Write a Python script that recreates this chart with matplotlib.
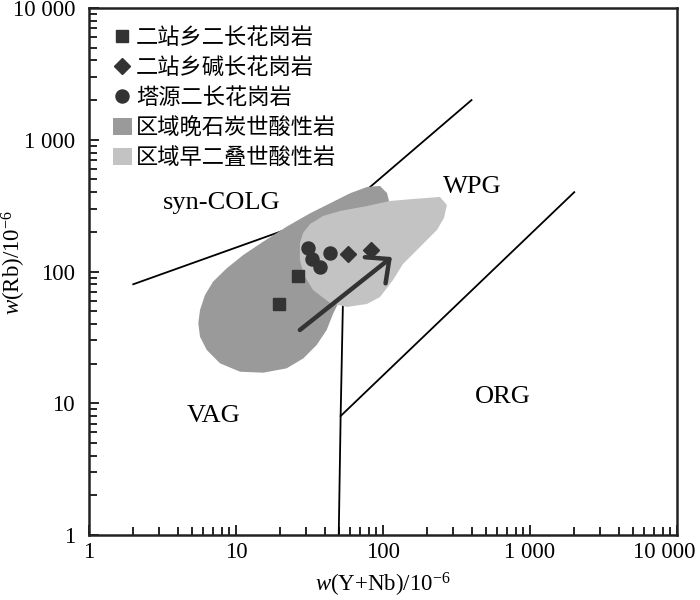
import numpy as np
import matplotlib
matplotlib.use("Agg")
import matplotlib.pyplot as plt
from matplotlib.lines import Line2D
from matplotlib.patches import Patch
from matplotlib.ticker import FixedLocator, FuncFormatter, LogLocator
from matplotlib.transforms import ScaledTranslation

plt.rcParams["font.family"] = ["Liberation Serif", "DejaVu Serif"]
plt.rcParams["mathtext.fontset"] = "custom"
plt.rcParams["mathtext.rm"] = "Liberation Serif"
plt.rcParams["mathtext.it"] = "Liberation Serif:italic"

# --- sample data ---
sq_x = [26.4, 19.6]          # 二站乡二长花岗岩
sq_y = [91.7, 57.0]
dia_x = [57.4, 82.7]         # 二站乡碱长花岗岩
dia_y = [134.6, 146.8]
cir_x = [30.9, 32.9, 37.3, 43.8]   # 塔源二长花岗岩
cir_y = [152, 125, 109, 139]

# regional fields (outline)
late_carb_x = [5.54, 5.69, 6.15, 6.98, 8.65, 11.2, 15.3, 22.1, 31.9, 45.9,
               59.6, 77.8, 95.4, 106.5, 111.6, 130.5, 51.0,
               45.9, 41.4, 35.4, 28.7, 22.1, 15.3, 10.65, 7.78, 6.32, 5.69]
late_carb_y = [40.4, 51.0, 66.3, 83.7, 105.8, 133.4, 168.3, 218.8, 276.5, 338.8,
               392.2, 438, 446, 394, 320, 122, 60.8,
               48.2, 36.0, 27.7, 21.9, 18.4, 17.06, 17.35, 20.1, 25.4, 32.0]
early_perm_x = [27.2, 28.6, 31.9, 39.1, 51.0, 77.8, 111.6, 160, 244, 272,
                260, 233, 178.5, 136.8, 117, 95.4, 77.8, 56.9, 43.6, 33.4,
                29.0, 27.2]
early_perm_y = [164.5, 196, 229, 264, 288, 314, 343, 355, 368, 320, 255,
                207, 153.5, 114, 86.2, 64, 56.7, 53.8, 57.7, 72.4, 94.0, 122]

# Pearce (1984) boundaries
bound_a_x = [2, 55, 400]
bound_a_y = [80, 300, 2000]
bound_b_x = [55, 51.5, 50]
bound_b_y = [300, 8, 1]
bound_c_x = [51.5, 2000]
bound_c_y = [8, 400]

arrow_start = (27.2, 36.0)
arrow_end = (115, 128.8)

tick_vals = [1, 10, 100, 1000, 10000]
tick_text = ["1", "10", "100", "1 000", "10 000"]

mark_col = "#333333"
dark_gray = "#9a9a9a"
light_gray = "#c3c3c3"

fig = plt.figure(figsize=(7, 6), dpi=100)
ax = fig.add_axes([89 / 700, 65 / 600, 588 / 700, 527 / 600])
ax.set_xscale("log")
ax.set_yscale("log")
ax.set_xlim(1, 10000)
ax.set_ylim(1, 10000)

for bx, by in [(bound_a_x, bound_a_y), (bound_b_x, bound_b_y), (bound_c_x, bound_c_y)]:
    ax.plot(bx, by, color="black", lw=1.3, zorder=1)

ax.fill(late_carb_x, late_carb_y, color=dark_gray, lw=0, zorder=2)
ax.fill(early_perm_x, early_perm_y, color=light_gray, lw=0, zorder=3)

ax.annotate("", xy=arrow_end, xytext=arrow_start,
            arrowprops=dict(arrowstyle="->,head_length=0.65,head_width=0.6",
                            mutation_scale=20, lw=3.2, color=mark_col,
                            shrinkA=0, shrinkB=0),
            zorder=4)

ax.plot(sq_x, sq_y, "s", ms=8.6, color=mark_col, ls="none", zorder=5)
ax.plot(dia_x, dia_y, "D", ms=8.5, color=mark_col, ls="none", zorder=5)
ax.plot(cir_x, cir_y, "o", ms=9.4, color=mark_col, ls="none", zorder=5)

ax.text(8.0, 331, "syn-COLG", fontsize=19, ha="center", va="center")
ax.text(405, 438, "WPG", fontsize=19, ha="center", va="center")
ax.text(7.0, 8.0, "VAG", fontsize=19, ha="center", va="center")
ax.text(655, 11.1, "ORG", fontsize=19, ha="center", va="center")

# axes styling
for side in ["left", "bottom", "right", "top"]:
    ax.spines[side].set_linewidth(1.8)
    ax.spines[side].set_color("#222222")

for axis in [ax.xaxis, ax.yaxis]:
    axis.set_major_locator(FixedLocator(tick_vals))
    axis.set_minor_locator(LogLocator(base=10, subs=np.arange(2, 10), numticks=20))
    axis.set_major_formatter(FuncFormatter(
        lambda v, pos: tick_text[tick_vals.index(int(round(v)))] if int(round(v)) in tick_vals else ""))

ax.tick_params(which="both", direction="in", top=False, right=False, width=1.2)
ax.tick_params(which="major", length=7, labelsize=16.5)
ax.tick_params(which="minor", length=6)
ax.tick_params(axis="x", which="major", pad=5)
ax.tick_params(axis="y", which="major", pad=10)

ax.set_xlabel(r"$w$(Y+Nb)/10$^{-6}$", fontsize=16.5, labelpad=6)
ax.set_ylabel(r"$w$(Rb)/10$^{-6}$", fontsize=16.5)
ax.yaxis.set_label_coords(-0.103, 0.518)

# nudge the last x tick label so it stays inside the figure
fig.canvas.draw()
last = ax.get_xticklabels()[-1]
last.set_transform(last.get_transform() + ScaledTranslation(-9 / 72, 0, fig.dpi_scale_trans))

handles = [
    Line2D([], [], marker="s", ms=8.6, color=mark_col, ls="none"),
    Line2D([], [], marker="D", ms=8.5, color=mark_col, ls="none"),
    Line2D([], [], marker="o", ms=9.4, color=mark_col, ls="none"),
    Patch(facecolor=dark_gray, edgecolor="none"),
    Patch(facecolor=light_gray, edgecolor="none"),
]
labels = ["二站乡二长花岗岩", "二站乡碱长花岗岩", "塔源二长花岗岩",
          "区域晚石炭世酸性岩", "区域早二叠世酸性岩"]
leg = ax.legend(handles, labels, loc="upper left", frameon=False,
                prop={"family": ["Noto Sans CJK SC", "DejaVu Sans"], "size": 16},
                handlelength=0.85, handleheight=0.85, handletextpad=0.2,
                labelspacing=0.32, borderaxespad=0.4,
                bbox_to_anchor=(0.01, 1.0))

fig.savefig("out.png", dpi=100)
